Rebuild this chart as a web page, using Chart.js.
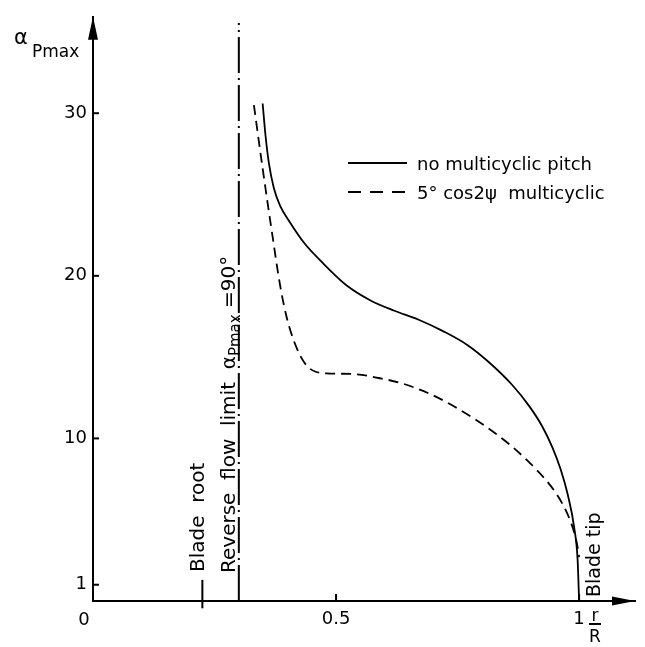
<!DOCTYPE html>
<html>
<head>
<meta charset="utf-8">
<script src="https://cdn.jsdelivr.net/npm/chart.js@4/dist/chart.umd.min.js"></script>
<style>
  html,body{margin:0;padding:0;background:#fff;}
</style>
</head>
<body>
<canvas id="c" width="645" height="647"></canvas>
<script>
// r/R and alpha_Pmax
const rSolid     = [0.349,0.355,0.362,0.372,0.385,0.405,0.435,0.469,0.52, 0.57,0.62, 0.67,0.72,0.77, 0.814,0.862,0.897,0.924,0.945,0.962,0.977,0.990,0.997,1.0];
const alphaSolid = [30.6, 28.6, 26.9, 25.4, 24.3, 23.3, 22.0, 20.9, 19.45,18.5,17.85,17.3,16.6,15.75,14.7, 13.3, 12.0, 10.75,9.45, 8.1,  6.5,  4.5,  2.5,  0];

const rDashed     = [0.331,0.349,0.368,0.385,0.398,0.412,0.428,0.442,0.458,0.48,0.54, 0.59,0.634,0.692,0.738,0.785,0.826,0.862,0.90,0.93,0.952,0.968,0.981,0.991,0.997,1.0];
const alphaDashed = [30.5, 26.6, 22.7, 19.4, 17.5, 16.1, 15.0, 14.4, 14.1, 14.0,13.95,13.7,13.4, 12.75,12.05,11.2, 10.35,9.5,  8.45,7.5, 6.65, 5.85, 5.0,  4.1,  3.3,  2.7];

const xTicks = [0.5, 1];
const yTicks = [1, 10, 20, 30];
const bladeRoot = 0.225;
const reverseFlow = 0.3;
const seriesNames = ['no multicyclic pitch', '5\u00b0 cos2\u03c8  multicyclic'];

const FONT = '"DejaVu Sans", sans-serif';
const INK = '#000';
const pts = (xs, ys) => xs.map((v, i) => ({x: v, y: ys[i]}));

function vtext(ctx, parts, px, py){
  // parts: [text, size, dy]
  ctx.save();
  ctx.translate(px, py);
  ctx.rotate(-Math.PI/2);
  ctx.textAlign = 'left';
  ctx.textBaseline = 'alphabetic';
  let off = 0;
  for (const [t, size, dy] of parts){
    ctx.font = size + 'px ' + FONT;
    ctx.fillText(t, off, dy);
    off += ctx.measureText(t).width;
  }
  ctx.restore();
}

const annot = {
  id: 'annot',
  afterDraw(chart){
    const {ctx, scales:{x, y}, chartArea:a} = chart;
    ctx.save();
    ctx.fillStyle = INK;
    ctx.strokeStyle = INK;
    // arrow heads
    ctx.beginPath();
    ctx.moveTo(a.left, a.top); ctx.lineTo(a.left - 5, a.top + 23); ctx.lineTo(a.left + 5, a.top + 23); ctx.closePath(); ctx.fill();
    ctx.beginPath();
    ctx.moveTo(a.right, a.bottom); ctx.lineTo(a.right - 23, a.bottom - 4.5); ctx.lineTo(a.right - 23, a.bottom + 4.5); ctx.closePath(); ctx.fill();
    // inner tick marks
    ctx.lineWidth = 2;
    yTicks.forEach(v => {
      const py = y.getPixelForValue(v);
      ctx.beginPath(); ctx.moveTo(a.left, py); ctx.lineTo(a.left + 6, py); ctx.stroke();
    });
    xTicks.forEach(v => {
      const px = x.getPixelForValue(v);
      ctx.beginPath(); ctx.moveTo(px, a.bottom); ctx.lineTo(px, a.bottom - 7); ctx.stroke();
    });
    // origin label
    ctx.font = '18px ' + FONT;
    ctx.textAlign = 'center';
    ctx.textBaseline = 'alphabetic';
    ctx.fillText('0', x.getPixelForValue(0) - 9, a.bottom + 24);
    // y axis title
    ctx.textAlign = 'left';
    ctx.font = '21px ' + FONT;
    ctx.fillText('\u03b1', 14, 44);
    ctx.font = '17px ' + FONT;
    ctx.fillText('Pmax', 32, 57);
    // r/R
    ctx.textAlign = 'center';
    ctx.fillText('r', a.right - 40, a.bottom + 20);
    ctx.fillText('R', a.right - 40, a.bottom + 41);
    ctx.beginPath(); ctx.moveTo(a.right - 46, a.bottom + 23); ctx.lineTo(a.right - 34, a.bottom + 23); ctx.stroke();
    // rotated labels
    vtext(ctx, [['Blade  root', 20, 0]], x.getPixelForValue(bladeRoot) + 2, a.bottom - 29);
    vtext(ctx, [['Reverse  flow  limit  \u03b1', 20, 0], ['Pmax', 15, 5], [' =90\u00b0', 20, 0]], x.getPixelForValue(reverseFlow) - 4, a.bottom - 28);
    vtext(ctx, [['Blade tip', 19, 0]], x.getPixelForValue(1) + 21, a.bottom - 4);
    // legend
    const lx = 348, ly = [163, 192];
    chart.data.datasets.slice(0, 2).forEach((ds, i) => {
      ctx.lineWidth = 2;
      ctx.setLineDash(i ? [13, 9] : []);
      ctx.beginPath(); ctx.moveTo(lx, ly[i]); ctx.lineTo(lx + 59, ly[i]); ctx.stroke();
      ctx.setLineDash([]);
      ctx.font = '18px ' + FONT;
      ctx.textAlign = 'left';
      ctx.fillText(ds.label, lx + 69, ly[i] + 7);
    });
    ctx.restore();
  }
};

new Chart(document.getElementById('c'), {
  type: 'line',
  data: {
    datasets: [
      {label: seriesNames[0], data: pts(rSolid, alphaSolid), borderColor: INK, borderWidth: 1.8, pointRadius: 0, cubicInterpolationMode: 'monotone'},
      {label: seriesNames[1], data: pts(rDashed, alphaDashed), borderColor: INK, borderWidth: 1.8, borderDash: [10, 6], pointRadius: 0, cubicInterpolationMode: 'monotone'},
      {label: 'reverse flow', data: [{x: reverseFlow, y: 0}, {x: reverseFlow, y: 35.55}], borderColor: INK, borderWidth: 2, borderDash: [36, 5, 2, 5], pointRadius: 0},
      {label: 'blade root', data: [{x: bladeRoot, y: -0.45}, {x: bladeRoot, y: 1.3}], borderColor: INK, borderWidth: 2, pointRadius: 0, clip: false}
    ]
  },
  options: {
    responsive: false,
    animation: false,
    layout: {padding: {top: 10, right: 10, left: 0, bottom: 0}},
    plugins: {legend: {display: false}, tooltip: {enabled: false}},
    scales: {
      x: {
        type: 'linear', min: 0, max: 1.115,
        grid: {display: false, drawTicks: false},
        border: {display: true, color: INK, width: 2},
        afterBuildTicks: s => { s.ticks = xTicks.map(v => ({value: v})); },
        afterFit: s => { s.height = 46; },
        ticks: {color: INK, font: {family: FONT, size: 18}, padding: 8, maxRotation: 0,
                callback: v => String(v)}
      },
      y: {
        type: 'linear', min: 0, max: 35.93,
        grid: {display: false, drawTicks: false},
        border: {display: true, color: INK, width: 2},
        afterBuildTicks: s => { s.ticks = yTicks.map(v => ({value: v})); },
        afterFit: s => { s.width = 93; },
        ticks: {color: INK, font: {family: FONT, size: 18}, padding: 6,
                callback: v => String(v)}
      }
    }
  },
  plugins: [annot]
});
</script>
</body>
</html>
